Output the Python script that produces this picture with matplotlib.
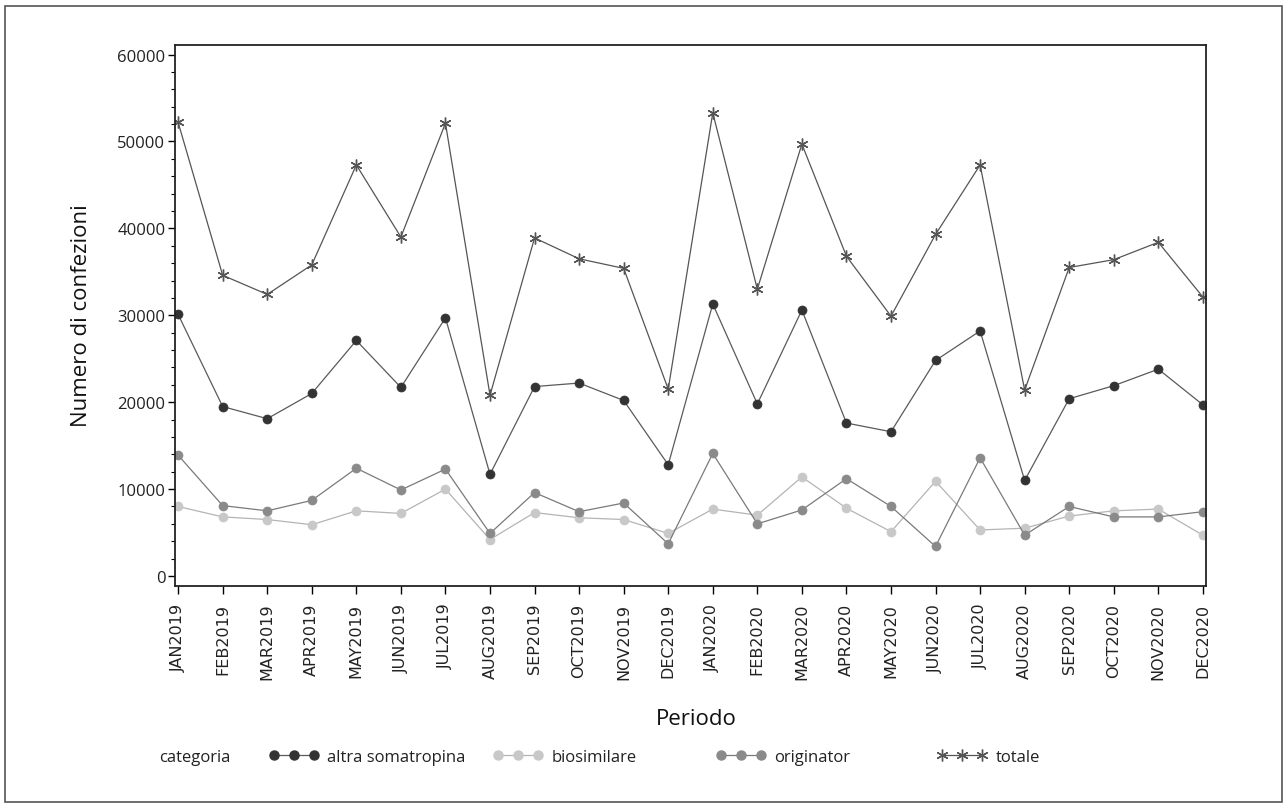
import numpy as np
import matplotlib
matplotlib.use("Agg")
import matplotlib.pyplot as plt
from matplotlib.lines import Line2D
from matplotlib.patches import Rectangle
from matplotlib.ticker import MultipleLocator

#Data
periodi = ["JAN2019", "FEB2019", "MAR2019", "APR2019", "MAY2019", "JUN2019",
           "JUL2019", "AUG2019", "SEP2019", "OCT2019", "NOV2019", "DEC2019",
           "JAN2020", "FEB2020", "MAR2020", "APR2020", "MAY2020", "JUN2020",
           "JUL2020", "AUG2020", "SEP2020", "OCT2020", "NOV2020", "DEC2020"]
altra = [30100, 19500, 18100, 21000, 27100, 21700, 29700, 11700, 21800, 22200, 20200, 12800,
         31300, 19800, 30600, 17600, 16600, 24800, 28200, 11000, 20400, 21900, 23800, 19700]
biosimilare = [8000, 6800, 6500, 5900, 7500, 7200, 10000, 4200, 7300, 6700, 6500, 4900,
               7700, 7000, 11400, 7800, 5100, 10900, 5300, 5500, 6900, 7500, 7700, 4700]
originator = [13900, 8100, 7500, 8700, 12400, 9900, 12300, 4900, 9600, 7400, 8400, 3700,
              14100, 6000, 7600, 11200, 8000, 3400, 13600, 4700, 8000, 6800, 6800, 7400]
totale = [52200, 34600, 32400, 35800, 47300, 39000, 52100, 20800, 38900, 36500, 35400, 21500,
          53300, 33000, 49700, 36800, 29900, 39300, 47300, 21400, 35500, 36400, 38400, 32100]

#Styles
font_txt = "Open Sans"
star = (6, 2, 0)
series = [
    ("altra somatropina", altra, "o", "#333333", "#5a5a5a"),
    ("biosimilare", biosimilare, "o", "#c8c8c8", "#b4b4b4"),
    ("originator", originator, "o", "#8a8a8a", "#7a7a7a"),
    ("totale", totale, star, "#555555", "#555555"),
]

fig = plt.figure(figsize=(12.84, 8.04), dpi=100)
ax = fig.add_axes([175/1284, 1-587/804, (1206-175)/1284, (587-46)/804])

#Outer frame
fig.patches.append(Rectangle((5/1284, 1/804), 1277/1284, 796/804, transform=fig.transFigure,
                             fill=False, edgecolor="#555555", lw=1.2))

x = np.arange(len(periodi))
for name, vals, mk, mc, lc in series:
    ms = 8.5 if mk == star else 6.5
    ax.plot(x, vals, color=lc, lw=0.9, marker=mk, markersize=ms,
            markerfacecolor=mc, markeredgecolor=mc, markeredgewidth=1.0 if mk == star else 0.5)

ax.set_xlim(-0.07, len(periodi)-1+0.07)
ax.set_ylim(-1150, 61100)
ax.set_xticks(x)
ax.set_xticklabels(periodi, rotation=90, fontsize=11.5, family="DejaVu Sans", color="#222222")
ax.yaxis.set_major_locator(MultipleLocator(10000))
ax.yaxis.set_minor_locator(MultipleLocator(2000))
for lab in ax.get_yticklabels():
    lab.set_family(font_txt)
    lab.set_fontsize(12)
    lab.set_color("#222222")
ax.tick_params(axis="x", direction="out", length=6, width=1, pad=6)
ax.tick_params(axis="y", which="major", direction="out", length=5, width=1, pad=2)
ax.tick_params(axis="y", which="minor", direction="out", length=3, width=0.8)
for s in ax.spines.values():
    s.set_linewidth(1.3)
    s.set_color("#222222")

#Axis labels
fig.text(696/1284, 1-720/804, "Periodo", family=font_txt, fontsize=16,
         ha="center", va="center", color="#111111")
fig.text(82/1284, 1-316/804, "Numero di confezioni", family=font_txt, fontsize=16,
         ha="center", va="center", rotation=90, color="#111111")

#Legend
fig.text(159/1284, 1-758/804, "categoria", family=font_txt, fontsize=12,
         va="center", ha="left", color="#222222")
leg_x = [269, 493, 716, 937]
for (name, vals, mk, mc, lc), lx in zip(series, leg_x):
    ms = 8.5 if mk == star else 6.5
    h = Line2D([], [], color=lc, lw=0.9, marker=mk, markersize=ms,
               markerfacecolor=mc, markeredgecolor=mc)
    leg = fig.legend([h], [name], loc="center left", bbox_to_anchor=(lx/1284, 1-758/804),
                     frameon=False, numpoints=3, handlelength=3.0, handletextpad=0.5,
                     borderpad=0, borderaxespad=0, prop={"family": font_txt, "size": 12})
    for t in leg.get_texts():
        t.set_color("#222222")

fig.savefig("out.png", dpi=100)
